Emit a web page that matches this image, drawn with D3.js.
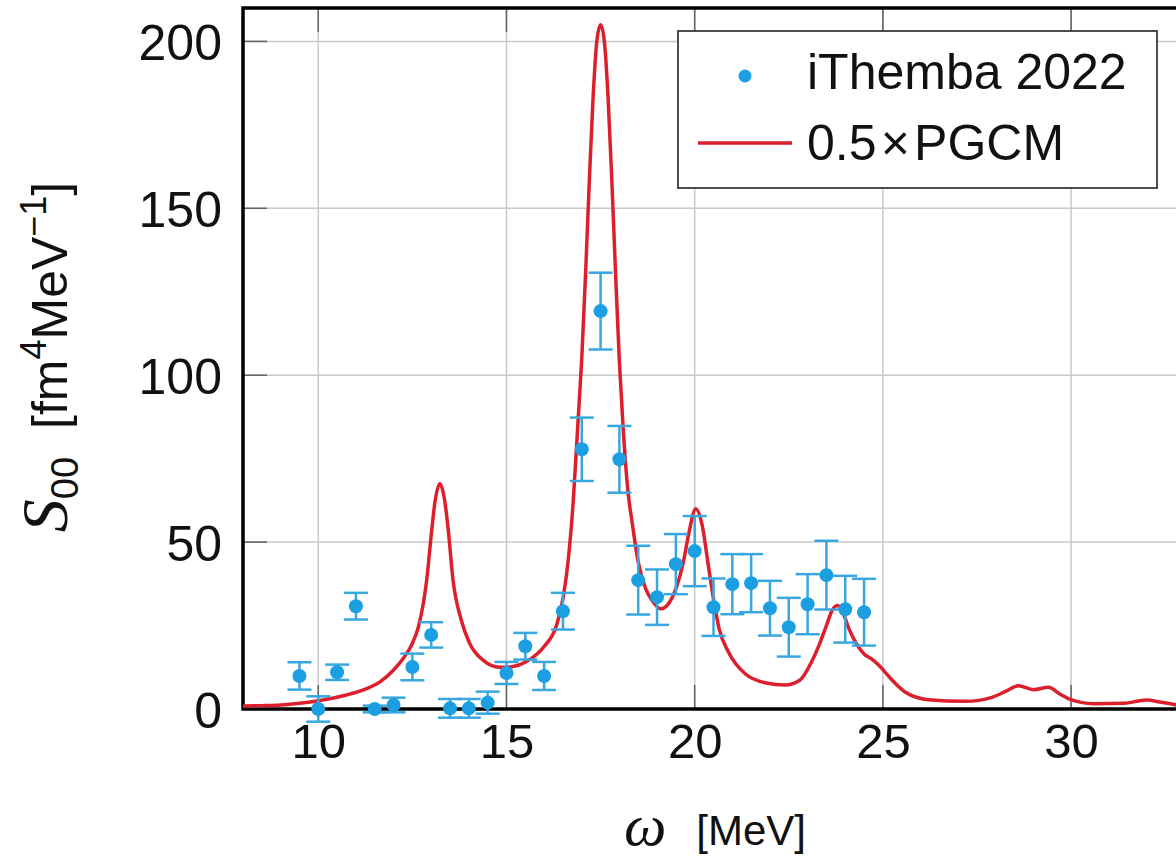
<!DOCTYPE html>
<html>
<head>
<meta charset="utf-8">
<script src="https://cdnjs.cloudflare.com/ajax/libs/d3/7.8.5/d3.min.js"></script>
<style>
  body { margin: 0; background: #fff; }
  svg { display: block; }
  text { font-family: "Liberation Sans", Arial, sans-serif; fill: #111; }
</style>
</head>
<body>
<div id="chart"></div>
<script>
// measured points (iThemba 2022)
var expOmega = [9.5, 10, 10.5, 11, 11.5, 12, 12.5, 13, 13.5, 14, 14.5, 15, 15.5, 16, 16.5,
  17, 17.5, 18, 18.5, 19, 19.5, 20, 20.5, 21, 21.5, 22, 22.5, 23, 23.5, 24, 24.5];
var expS = [9.9, 0, 11, 30.8, 0, 1.2, 12.6, 22.2, 0.2, 0.2, 1.9, 10.8, 18.8, 9.9, 29.3,
  77.8, 119.2, 74.8, 38.6, 33.5, 43.4, 47.3, 30.5, 37.4, 37.7, 30.2, 24.5, 31.4, 40.1, 29.9, 29.0];
var expErr = [4.1, 3.8, 2.3, 4.0, 1.0, 2.2, 4.0, 3.8, 2.8, 2.8, 3.3, 3.3, 4.0, 4.2, 5.5,
  9.5, 11.5, 10.0, 10.3, 8.3, 9.0, 10.5, 8.6, 9.0, 8.7, 8.2, 8.8, 9.0, 10.3, 10.0, 10.0];

// theory curve (0.5 x PGCM)
var pgcmOmega = [8, 8.5, 9, 9.5, 10, 10.75, 11.3, 11.65, 12, 12.26, 12.48, 12.66, 12.79, 12.88,
  13.0, 13.1, 13.23, 13.35, 13.45, 13.58, 13.8, 14.02, 14.37, 14.82, 15.1, 15.53, 16.0, 16.33,
  16.51, 16.64, 16.77, 16.9, 17.0, 17.1, 17.2, 17.3, 17.4, 17.5, 17.6, 17.7, 17.8, 17.9, 18.0,
  18.1, 18.22, 18.35, 18.5, 18.7, 18.9, 19.1, 19.3, 19.5, 19.7, 19.85, 20.03, 20.2, 20.35, 20.5,
  20.65, 20.9, 21.35, 21.9, 22.4, 22.8, 23.1, 23.3, 23.5, 23.65, 23.8, 23.95, 24.1, 24.3, 24.5,
  24.7, 24.9, 25.1, 25.3, 25.6, 26.2, 27.2, 27.9, 28.3, 28.6, 29.0, 29.4, 29.7, 30.0, 30.6,
  31.4, 32.0, 32.4, 33];
var pgcmS = [0.9, 1.0, 1.2, 1.7, 2.5, 4.2, 6.2, 8.2, 11.7, 15.2, 19.2, 24.6, 31.6, 38.6,
  52, 62, 67.5, 63, 54, 38.6, 26.6, 19.7, 14.7, 12.5, 12.6, 14.2, 18.7, 25.1,
  33.6, 44.6, 61.6, 86, 105, 130, 158, 183, 200, 205, 200, 183, 158, 130, 104,
  84, 66, 55, 44, 36, 32, 30, 31.5, 36, 44, 53, 60, 55, 44, 33,
  24, 17, 10.5, 7.8, 7.2, 8.7, 14, 19, 25, 29.5, 31, 28.5, 24, 19.5, 16.5,
  15, 13, 10.5, 8, 5, 2.8, 2.3, 3.5, 5.5, 7, 5.8, 6.5, 4.5, 2.8, 1.6,
  1.7, 2.7, 2.0, 0.8];

var xTicks = [10, 15, 20, 25, 30];
var yTicks = [0, 50, 100, 150, 200];

var width = 1176, height = 857;
var plotLeft = 243, plotTop = 8, plotBottom = 709, plotRight = 1184;

var svg = d3.select("#chart").append("svg")
  .attr("width", width)
  .attr("height", height);

var x = d3.scaleLinear().domain([8, 33]).range([plotLeft, plotRight]);
var y = d3.scaleLinear().domain([0, 210]).range([plotBottom, plotTop]);

svg.append("clipPath").attr("id", "plotClip")
  .append("rect")
  .attr("x", plotLeft).attr("y", plotTop)
  .attr("width", plotRight - plotLeft).attr("height", plotBottom - plotTop);

// grid
var grid = svg.append("g");
grid.selectAll(".gx").data(xTicks).enter().append("line")
  .attr("x1", function (d) { return x(d); }).attr("x2", function (d) { return x(d); })
  .attr("y1", plotTop).attr("y2", plotBottom)
  .attr("stroke", "#c8c8c8").attr("stroke-width", 1.5);
grid.selectAll(".gy").data(yTicks.slice(1)).enter().append("line")
  .attr("x1", plotLeft).attr("x2", plotRight)
  .attr("y1", function (d) { return y(d); }).attr("y2", function (d) { return y(d); })
  .attr("stroke", "#c8c8c8").attr("stroke-width", 1.5);

// inner ticks
var tickLen = 24;
var ticks = svg.append("g").attr("stroke", "#606060").attr("stroke-width", 1.5);
ticks.selectAll(".tt").data(xTicks).enter().append("line")
  .attr("x1", function (d) { return x(d); }).attr("x2", function (d) { return x(d); })
  .attr("y1", plotTop).attr("y2", plotTop + tickLen);
ticks.selectAll(".tb").data(xTicks).enter().append("line")
  .attr("x1", function (d) { return x(d); }).attr("x2", function (d) { return x(d); })
  .attr("y1", plotBottom).attr("y2", plotBottom - tickLen);
ticks.selectAll(".tl").data(yTicks).enter().append("line")
  .attr("x1", plotLeft).attr("x2", plotLeft + tickLen)
  .attr("y1", function (d) { return y(d); }).attr("y2", function (d) { return y(d); });

// tick labels via d3 axes, lines hidden
var xAxis = svg.append("g")
  .attr("transform", "translate(0," + plotBottom + ")")
  .call(d3.axisBottom(x).tickValues(xTicks).tickSize(0).tickPadding(14));
xAxis.select(".domain").remove();
xAxis.selectAll("text").attr("font-size", 49).attr("dy", "0.71em")
  .style("font-family", "'Liberation Sans', Arial, sans-serif").attr("fill", "#111");

var yAxis = svg.append("g")
  .attr("transform", "translate(" + plotLeft + ",0)")
  .call(d3.axisLeft(y).tickValues(yTicks).tickSize(0).tickPadding(21));
yAxis.select(".domain").remove();
yAxis.selectAll("text").attr("font-size", 50).attr("dy", "0.36em")
  .style("font-family", "'Liberation Sans', Arial, sans-serif").attr("fill", "#111");

// frame
svg.append("path")
  .attr("d", "M" + plotRight + "," + plotTop + "H" + plotLeft + "V" + plotBottom + "H" + plotRight)
  .attr("stroke", "#000").attr("stroke-width", 3.5).attr("fill", "none");

// curve
var line = d3.line()
  .x(function (d, i) { return x(pgcmOmega[i]); })
  .y(function (d) { return y(d); })
  .curve(d3.curveMonotoneX);
svg.append("path")
  .datum(pgcmS)
  .attr("clip-path", "url(#plotClip)")
  .attr("d", line)
  .attr("fill", "none")
  .attr("stroke", "#dc1f2b")
  .attr("stroke-width", 3.5);

// error bars and points
var blue = "#1b9fe0";
var barBlue = "#38a7df";
var cap = 12;
var bars = svg.append("g").attr("stroke", barBlue).attr("stroke-width", 2.5);
expOmega.forEach(function (w, i) {
  var cx = x(w), y0 = y(expS[i] - expErr[i]), y1 = y(expS[i] + expErr[i]);
  bars.append("line").attr("x1", cx).attr("x2", cx).attr("y1", y0).attr("y2", y1);
  bars.append("line").attr("x1", cx - cap).attr("x2", cx + cap).attr("y1", y0).attr("y2", y0);
  bars.append("line").attr("x1", cx - cap).attr("x2", cx + cap).attr("y1", y1).attr("y2", y1);
});
svg.append("g").selectAll("circle")
  .data(expS)
  .enter().append("circle")
  .attr("cx", function (d, i) { return x(expOmega[i]); })
  .attr("cy", function (d) { return y(d); })
  .attr("r", 7)
  .attr("fill", blue);

// legend
var lg = svg.append("g");
lg.append("rect")
  .attr("x", 678).attr("y", 31).attr("width", 479).attr("height", 157)
  .attr("fill", "#fff").attr("stroke", "#3a3a3a").attr("stroke-width", 1.8);
lg.append("circle").attr("cx", 745).attr("cy", 76).attr("r", 6.5).attr("fill", blue);
lg.append("text").attr("x", 807).attr("y", 89).attr("font-size", 50).text("iThemba 2022");
lg.append("line").attr("x1", 698).attr("x2", 792).attr("y1", 143).attr("y2", 143)
  .attr("stroke", "#dc1f2b").attr("stroke-width", 3.5);
lg.append("text").attr("x", 807).attr("y", 160).attr("font-size", 50).text("0.5\u200a×\u200aPGCM");

// axis titles
var xt = svg.append("text")
  .attr("x", 715).attr("y", 845)
  .attr("text-anchor", "middle")
  .attr("font-size", 42);
xt.append("tspan").style("font-family", "'Liberation Serif', serif").style("font-style", "italic")
  .attr("font-size", 60).text("ω");
xt.append("tspan").attr("dx", 30).text("[MeV]");

var yt = svg.append("text")
  .attr("transform", "translate(67,357) rotate(-90)")
  .attr("text-anchor", "middle")
  .attr("font-size", 50);
yt.append("tspan").style("font-family", "'Liberation Serif', serif").style("font-style", "italic")
  .attr("font-size", 66).text("S");
yt.append("tspan").attr("font-size", 38).attr("dy", 11).text("00");
yt.append("tspan").attr("dy", -11).attr("dx", 28).text("[fm");
yt.append("tspan").attr("font-size", 36).attr("dy", -21).text("4");
yt.append("tspan").attr("dy", 21).text("MeV");
yt.append("tspan").attr("font-size", 36).attr("dy", -21).text("−1");
yt.append("tspan").attr("dy", 21).text("]");
</script>
</body>
</html>
